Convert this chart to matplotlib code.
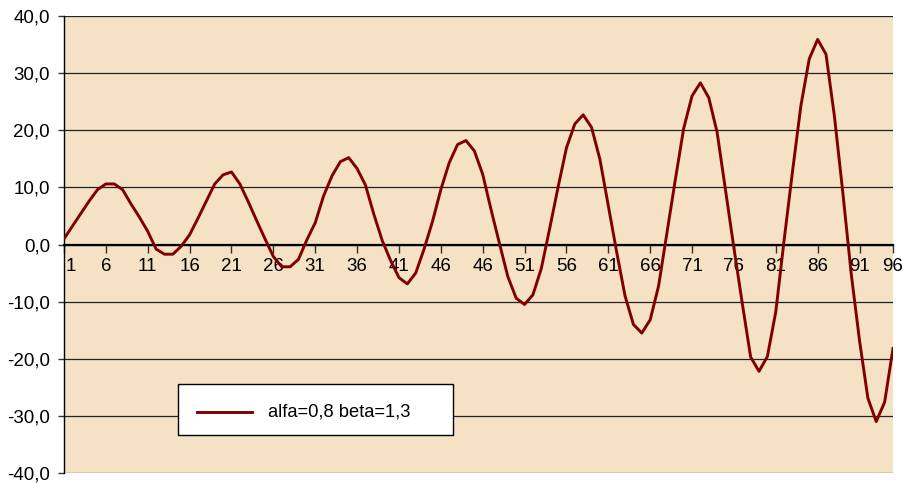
import numpy as np
import matplotlib.pyplot as plt
from matplotlib.patches import Rectangle
from matplotlib.lines import Line2D

plt.rcParams['font.family'] = ['Liberation Sans', 'DejaVu Sans']

# values, one per period (100 periods)
values = [1.0, 3.2, 5.4, 7.6, 9.6, 10.6, 10.6, 9.6, 7.1, 4.8,
          2.3, -0.8, -1.7, -1.7, -0.3, 1.7, 4.6, 7.6, 10.6, 12.2,
          12.7, 10.6, 7.5, 4.2, 1.0, -2.1, -3.9, -3.9, -2.6, 0.8,
          3.8, 8.5, 12.0, 14.5, 15.2, 13.3, 10.4, 5.3, 0.7, -2.8,
          -5.8, -6.9, -5.0, -0.8, 4.0, 9.6, 14.3, 17.5, 18.2, 16.4,
          12.3, 6.1, 0.2, -5.6, -9.4, -10.5, -8.8, -4.2, 2.8, 10.0,
          16.9, 21.1, 22.7, 20.5, 14.9, 6.8, -1.3, -9.0, -14.0, -15.5,
          -13.2, -7.3, 2.0, 11.3, 20.3, 26.0, 28.3, 25.7, 19.6, 9.5,
          -0.6, -10.3, -19.7, -22.2, -19.6, -11.8, 0.8, 12.8, 24.3, 32.5,
          35.9, 33.3, 22.5, 9.2, -5.0, -16.8, -26.9, -31.0, -27.6, -18.2]

xtick_labels = ['1', '6', '11', '16', '21', '26', '31', '36', '41', '46',
                '46', '51', '56', '61', '66', '71', '76', '81', '86', '91', '96']
yticks = [-40, -30, -20, -10, 0, 10, 20, 30, 40]
series_label = 'alfa=0,8 beta=1,3'

line_color = '#800000'
bg_color = '#f5e1c3'

fig = plt.figure(figsize=(9.04, 4.84), dpi=100)
ax = fig.add_axes([64/904, 11/484, 829/904, 457/484])
ax.set_facecolor(bg_color)

x = np.arange(len(values))
ax.plot(x, values, color=line_color, lw=2.1, zorder=3)

ax.set_xlim(0, len(values) - 1)
ax.set_ylim(-40, 40)

# category ticks every 5 periods, last label sits at the right edge;
# the first label is nudged right off the y axis
tick_pos = list(range(0, 100, 5)) + [len(values) - 1]
ax.set_xticks(tick_pos)
ax.set_xticklabels([''] + xtick_labels[1:])
ax.annotate(xtick_labels[0], xy=(tick_pos[0], 0), xycoords='data',
            xytext=(5, -10), textcoords='offset points',
            ha='center', va='top', fontsize=13.5)

ax.set_yticks(yticks)
ax.set_yticklabels([f'{v:.1f}'.replace('.', ',') for v in yticks])

ax.tick_params(axis='x', direction='out', length=6, width=1, pad=4,
               labelsize=13.5, color='#333333')
ax.tick_params(axis='y', direction='out', length=4, width=1, pad=6,
               labelsize=13.5, color='#333333')
ax.xaxis.get_major_ticks()[-1].tick1line.set_visible(False)

ax.grid(axis='y', color='#222222', lw=0.9)
ax.set_axisbelow(True)

for s in ['top', 'right']:
    ax.spines[s].set_visible(False)
ax.spines['bottom'].set_position(('data', 0))
ax.spines['bottom'].set_linewidth(1.6)
ax.spines['left'].set_linewidth(1.0)

# legend box
ax.add_patch(Rectangle((0.1375, 0.083), 0.3317, 0.1117, transform=ax.transAxes,
                       facecolor='white', edgecolor='black', lw=1.0, zorder=5))
ax.add_line(Line2D([0.1604, 0.2268], [0.1335, 0.1335], transform=ax.transAxes,
                   color=line_color, lw=2.1, zorder=6))
ax.text(0.2461, 0.1335, series_label, transform=ax.transAxes, va='center',
        ha='left', fontsize=13.2, zorder=6)

fig.savefig('out.png', dpi=100)
